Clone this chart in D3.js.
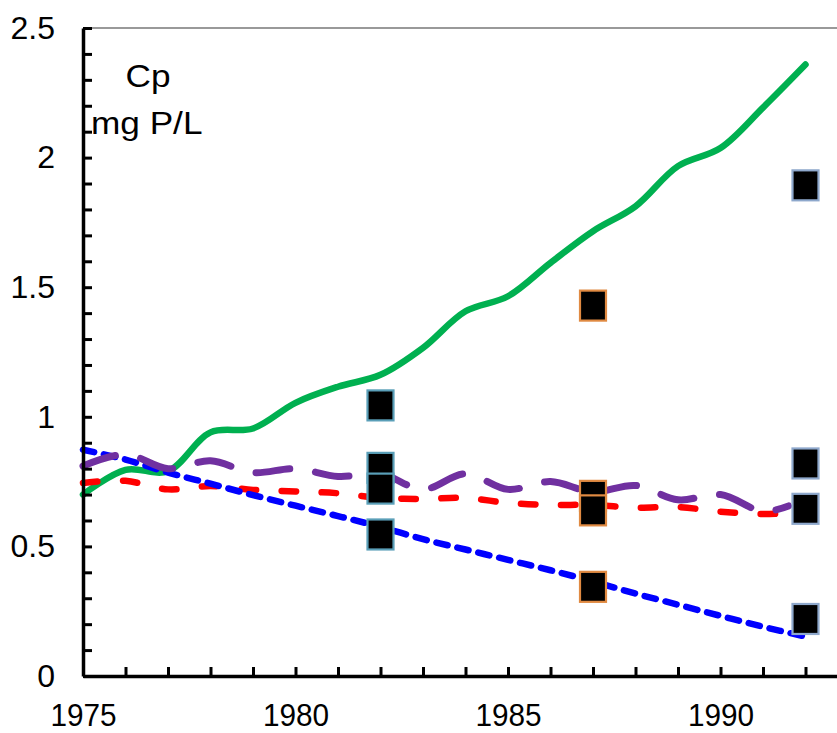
<!DOCTYPE html>
<html>
<head>
<meta charset="utf-8">
<script src="https://cdn.jsdelivr.net/npm/d3@7"></script>
<style>
  body { margin: 0; background: #fff; }
  text { font-family: 'Liberation Sans', Arial, sans-serif; }
</style>
</head>
<body>
<div id="wrapper"></div>
<script>
const years = [1975, 1976, 1977, 1978, 1979, 1980, 1981, 1982, 1983, 1984, 1985, 1986, 1987, 1988, 1989, 1990, 1991, 1992]
const shortYears = [1975, 1976, 1977, 1978, 1979, 1980, 1981, 1982, 1983, 1984, 1985, 1986, 1987, 1988, 1989, 1990, 1991, 1991.6]

const greenSeries = [0.70, 0.795, 0.79, 0.94, 0.955, 1.054, 1.116, 1.162, 1.266, 1.407, 1.465, 1.594, 1.716, 1.812, 1.967, 2.037, 2.193, 2.359]
const blueSeries = [0.873, 0.835, 0.785, 0.742, 0.698, 0.657, 0.617, 0.575, 0.528, 0.488, 0.448, 0.408, 0.365, 0.318, 0.275, 0.232, 0.19, 0.152]
const redSeries = [0.745, 0.753, 0.72, 0.733, 0.718, 0.712, 0.705, 0.687, 0.683, 0.687, 0.668, 0.66, 0.66, 0.649, 0.652, 0.634, 0.625, 0.628]
const purpleSeries = [0.81, 0.855, 0.80, 0.83, 0.785, 0.80, 0.77, 0.78, 0.72, 0.78, 0.72, 0.75, 0.71, 0.735, 0.68, 0.70, 0.635, 0.656]

const obsYears = [1982, 1987, 1992]
const obs1982 = [1.044, 0.803, 0.723, 0.546]
const obs1987 = [1.429, 0.695, 0.639, 0.344]
const obs1992 = [1.893, 0.82, 0.645, 0.22]
const obsColors = ['#5a9fb8', '#e08a42', '#8ea8cc']

const yTicks = [0, 0.1, 0.2, 0.3, 0.4, 0.5, 0.6, 0.7, 0.8, 0.9, 1, 1.1, 1.2, 1.3, 1.4, 1.5, 1.6, 1.7, 1.8, 1.9, 2, 2.1, 2.2, 2.3, 2.4, 2.5]
const yLabels = [0, 0.5, 1, 1.5, 2, 2.5]
const xLabels = [1975, 1980, 1985, 1990]

const dimensions = {
  width: 837,
  height: 733,
  margin: { top: 28, left: 83, bottom: 57 },
}
dimensions.boundedHeight = dimensions.height - dimensions.margin.top - dimensions.margin.bottom

const svg = d3.select('#wrapper')
  .append('svg')
  .attr('width', dimensions.width)
  .attr('height', dimensions.height)

const xScale = d3.scaleLinear()
  .domain([1975, 1993])
  .range([dimensions.margin.left, dimensions.margin.left + 18 * 42.5])

const yScale = d3.scaleLinear()
  .domain([0, 2.5])
  .range([dimensions.margin.top + dimensions.boundedHeight, dimensions.margin.top])

// top frame line
svg.append('line')
  .attr('x1', xScale(1975))
  .attr('x2', dimensions.width)
  .attr('y1', yScale(2.5))
  .attr('y2', yScale(2.5))
  .attr('stroke', '#777')
  .attr('stroke-width', 1.5)

const line = d3.line()
  .x(d => xScale(d[0]))
  .y(d => yScale(d[1]))
  .curve(d3.curveCatmullRom.alpha(0.5))

const drawSeries = (xs, ys, color, width, dash) => {
  svg.append('path')
    .datum(xs.map((x, i) => [x, ys[i]]))
    .attr('d', line)
    .attr('fill', 'none')
    .attr('stroke', color)
    .attr('stroke-width', width)
    .attr('stroke-linecap', 'round')
    .attr('stroke-dasharray', dash)
}

drawSeries(years, greenSeries, '#00b050', 6.5, null)
drawSeries(shortYears, redSeries, '#ff0000', 6.5, '14.5,25.5')
drawSeries(years, blueSeries, '#0000ff', 6.5, '11.5,10')
drawSeries(shortYears, purpleSeries, '#7030a0', 7, '34,26')

// observed squares
const obsData = [obs1982, obs1987, obs1992].flatMap((vals, i) =>
  vals.map(v => ({ year: obsYears[i], value: v, color: obsColors[i] })))

svg.selectAll('rect.obs')
  .data(obsData)
  .enter().append('rect')
  .attr('class', 'obs')
  .attr('x', d => xScale(d.year) - 13)
  .attr('y', d => yScale(d.value) - 15)
  .attr('width', 26)
  .attr('height', 30)
  .attr('fill', '#000')
  .attr('stroke', d => d.color)
  .attr('stroke-width', 2.2)

// axes
const xAxisGenerator = d3.axisBottom(xScale)
  .tickValues(years)
  .tickSize(-9)
  .tickSizeOuter(0)
  .tickPadding(27)
  .tickFormat(d => xLabels.includes(d) ? d : '')

const xAxis = svg.append('g')
  .attr('transform', `translate(0, ${yScale(0)})`)
  .call(xAxisGenerator)

const yAxisGenerator = d3.axisLeft(yScale)
  .tickValues(yTicks)
  .tickSize(-9)
  .tickSizeOuter(0)
  .tickPadding(28)
  .tickFormat(d => yLabels.some(v => Math.abs(v - d) < 1e-9) ? d3.format('')(d) : '')

const yAxis = svg.append('g')
  .attr('transform', `translate(${xScale(1975)}, 0)`)
  .call(yAxisGenerator)

;[xAxis, yAxis].forEach(axis => {
  axis.select('.domain').attr('stroke', '#000').attr('stroke-width', 3.5)
  axis.selectAll('.tick line').attr('stroke', '#000').attr('stroke-width', 3)
  axis.selectAll('.tick text')
    .attr('fill', '#000')
    .attr('font-size', 32)
    .attr('font-family', "'Liberation Sans', Arial, sans-serif")
})
xAxis.selectAll('.tick text').attr('transform', 'scale(0.93,1)')

// annotation
svg.append('text')
  .attr('transform', 'translate(148, 87) scale(1.1,1)')
  .attr('text-anchor', 'middle')
  .attr('font-size', 32)
  .attr('fill', '#000')
  .text('Cp')

svg.append('text')
  .attr('transform', 'translate(91, 134) scale(1.1,1)')
  .attr('font-size', 32)
  .attr('fill', '#000')
  .text('mg P/L')
</script>
</body>
</html>
